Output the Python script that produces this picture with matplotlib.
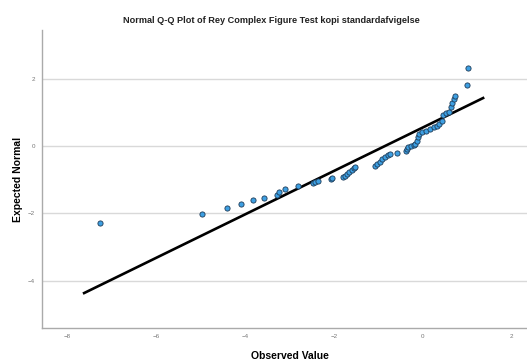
import matplotlib
matplotlib.use("Agg")
import matplotlib.pyplot as plt

plt.rcParams["font.family"] = ["Liberation Sans", "DejaVu Sans"]

# Observed standard deviation scores and their expected normal quantiles
observed = [-7.26, -4.97, -4.40, -4.08, -3.81, -3.57, -3.28, -3.24, -3.10, -2.81,
            -2.47, -2.42, -2.35, -2.07, -2.04, -1.80, -1.75, -1.70, -1.65, -1.60,
            -1.55, -1.52, -1.08, -1.03, -0.97, -0.91, -0.85, -0.78, -0.73, -0.58,
            -0.39, -0.36, -0.33, -0.27, -0.21, -0.17, -0.14, -0.11, -0.09, -0.01,
            0.07, 0.16, 0.24, 0.31, 0.37, 0.42, 0.46, 0.52, 0.59, 0.64,
            0.66, 0.70, 0.73, 1.00, 1.01]
expected = [-2.28, -2.02, -1.85, -1.72, -1.61, -1.53, -1.45, -1.38, -1.28, -1.20,
            -1.11, -1.07, -1.03, -0.99, -0.96, -0.92, -0.88, -0.82, -0.77, -0.71,
            -0.66, -0.61, -0.58, -0.53, -0.47, -0.40, -0.34, -0.28, -0.25, -0.22,
            -0.15, -0.10, -0.04, -0.01, 0.04, 0.07, 0.16, 0.26, 0.34, 0.41,
            0.45, 0.50, 0.55, 0.59, 0.65, 0.73, 0.92, 0.99, 1.02, 1.15,
            1.28, 1.39, 1.48, 1.81, 2.32]

# Reference line: expected = (observed - mean) / sd
obs_mean = -0.85
obs_sd = 1.55
line_x = [-7.64, 1.38]
line_y = [(v - obs_mean) / obs_sd for v in line_x]

x_ticks = [-8, -6, -4, -2, 0, 2]
y_ticks = [-4, -2, 0, 2]

fig = plt.figure(figsize=(5.27, 3.64), dpi=100)
ax = fig.add_axes([0.0797, 0.0989, 0.9203, 0.8187])

ax.set_xlim(-8.56, 2.34)
ax.set_ylim(-5.40, 3.44)

for yt in y_ticks:
    ax.axhline(yt, color="#d9d9d9", lw=1.0, zorder=0)

ax.plot(line_x, line_y, color="black", lw=1.9, solid_capstyle="butt", zorder=2)
ax.scatter(observed, expected, s=14, facecolor="#3d9fe2", edgecolor="#1d3b57",
           linewidths=0.6, zorder=3)

ax.set_xticks(x_ticks)
ax.set_yticks(y_ticks)
ax.tick_params(length=0, labelsize=4.5, labelcolor="#777777")
ax.tick_params(axis="x", pad=4)
ax.tick_params(axis="y", pad=5)

for side in ["top", "right"]:
    ax.spines[side].set_visible(False)
for side in ["left", "bottom"]:
    ax.spines[side].set_color("#aaaaaa")
    ax.spines[side].set_linewidth(1.0)

ax.set_xlabel("Observed Value", fontsize=7.5, fontweight="bold")
ax.set_ylabel("Expected Normal", fontsize=7.5, fontweight="bold")
ax.xaxis.set_label_coords(0.511, -0.077)
ax.yaxis.set_label_coords(-0.039, 0.497)
fig.text(0.515, 0.945, "Normal Q-Q Plot of Rey Complex Figure Test kopi standardafvigelse",
         ha="center", va="center", fontsize=6.6, fontweight="bold", color="#222222")

fig.savefig("out.png", dpi=100)
